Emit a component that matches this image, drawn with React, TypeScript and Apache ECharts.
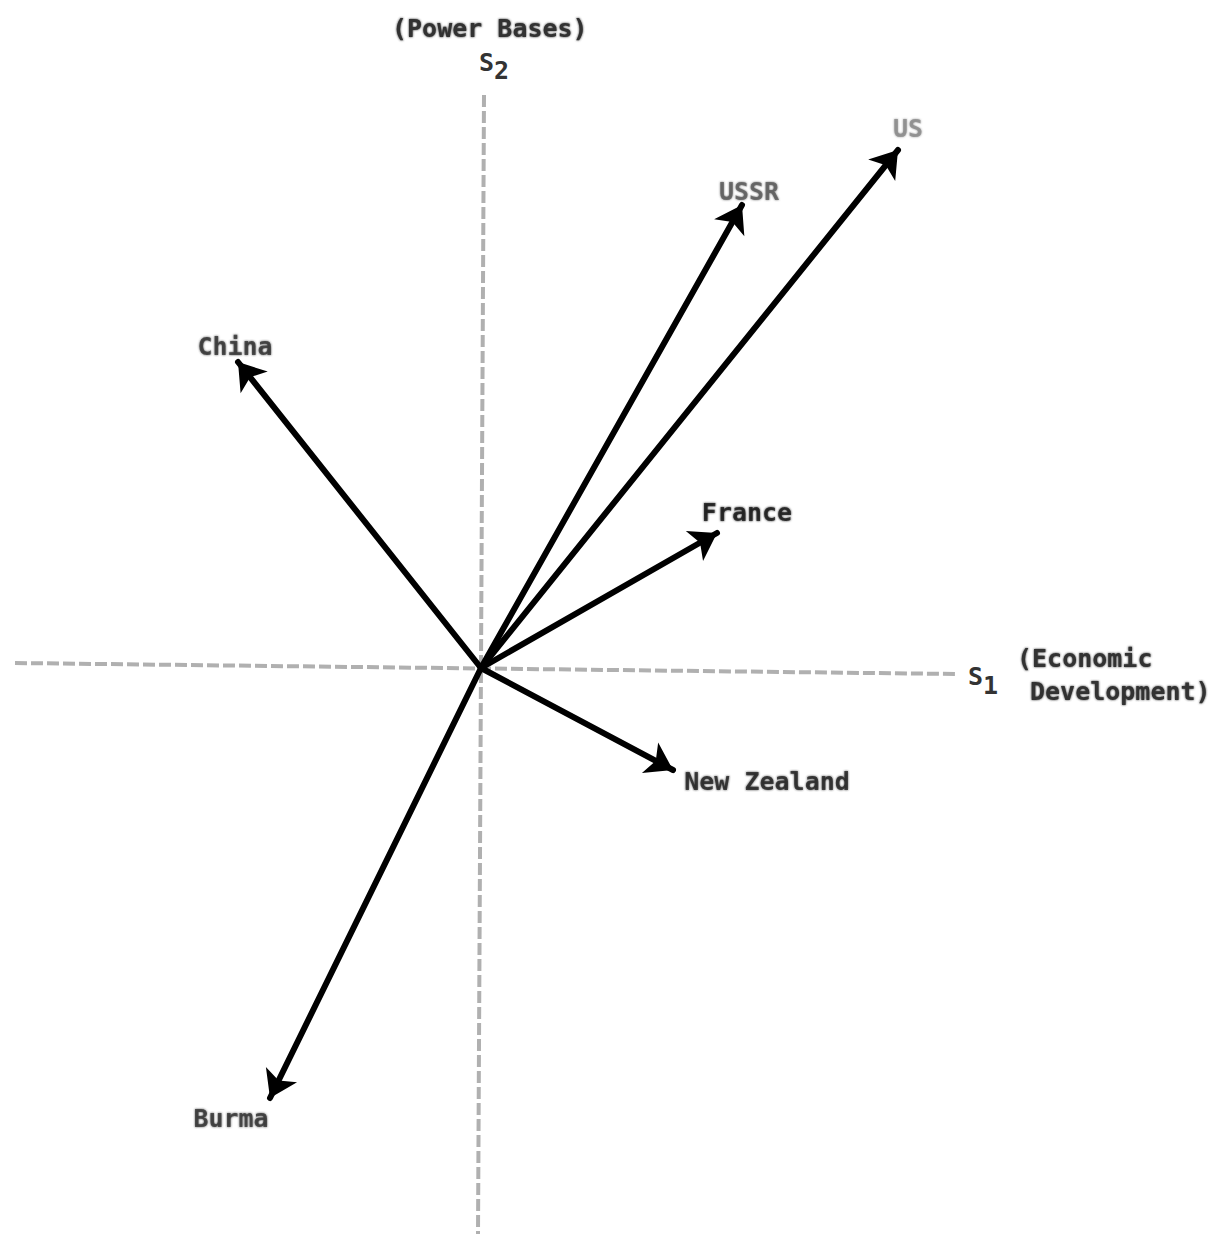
import React, { useEffect, useRef } from "react";
import * as echarts from "echarts";

// Country vectors (S1 = Economic Development, S2 = Power Bases)
const countries = ["US", "USSR", "China", "France", "New Zealand", "Burma"];
const s1Values = [4.17, 2.61, -2.43, 2.36, 1.92, -2.11];
const s2Values = [5.18, 4.63, 3.06, 1.35, -1.02, -4.3];

// Axis extents (dashed reference axes)
const s1AxisFrom = [-4.66, 0.05];
const s1AxisTo = [4.74, -0.06];
const s2AxisFrom = [0.03, 5.73];
const s2AxisTo = [-0.03, -5.66];

const labelOffsets: Record<string, number[]> = {
  US: [10, -22],
  USSR: [7, -14],
  China: [-3, -16],
  France: [30, -21],
  "New Zealand": [94, 11],
  Burma: [-39, 20],
};
const labelColors: Record<string, string> = {
  US: "#8a8a8a",
  USSR: "#5a5a5a",
  China: "#333",
  France: "#151515",
  "New Zealand": "#222",
  Burma: "#333",
};

const FONT = "'DejaVu Sans Mono', monospace";

export default function App() {
  const ref = useRef<HTMLDivElement>(null);
  useEffect(() => {
    const chart = echarts.init(ref.current!, null, { renderer: "svg" });
    const vectors = countries.map((c, i) => ({
      name: c,
      coords: [
        [0, 0],
        [s1Values[i], s2Values[i]],
      ],
    }));
    const tips = countries.map((c, i) => ({
      name: c,
      value: [s1Values[i], s2Values[i]],
      label: {
        offset: labelOffsets[c],
        color: labelColors[c],
        textShadowColor: labelColors[c],
        textShadowBlur: 2,
      },
    }));
    chart.setOption({
      animation: false,
      backgroundColor: "#fff",
      grid: { left: 0, right: 0, top: 0, bottom: 0 },
      xAxis: {
        type: "value",
        min: -4.81,
        max: 7.4,
        show: false,
      },
      yAxis: {
        type: "value",
        min: -5.66,
        max: 6.68,
        show: false,
      },
      series: [
        {
          type: "lines",
          coordinateSystem: "cartesian2d",
          silent: true,
          symbol: ["none", "none"],
          lineStyle: { color: "#b0b0b0", width: 4, type: [12, 4], opacity: 1 },
          data: [
            { coords: [s1AxisFrom, s1AxisTo] },
            { coords: [s2AxisFrom, s2AxisTo] },
          ],
          z: 1,
        },
        {
          type: "lines",
          coordinateSystem: "cartesian2d",
          silent: true,
          symbol: ["none", "arrow"],
          symbolSize: [20, 26],
          lineStyle: { color: "#000", width: 6, opacity: 1, cap: "round" },
          itemStyle: { color: "#000" },
          data: vectors,
          z: 3,
        },
        {
          type: "scatter",
          symbolSize: 0,
          silent: true,
          data: tips,
          label: {
            show: true,
            position: "inside",
            formatter: "{b}",
            fontFamily: FONT,
            fontWeight: "bold",
            fontSize: 25,
          },
          z: 4,
        },
      ],
      graphic: [
        {
          type: "text",
          left: 392,
          top: 16,
          style: {
            text: "(Power Bases)",
            font: `bold 25px ${FONT}`,
            fill: "#333",
            textShadowColor: "#333",
            textShadowBlur: 2,
          },
        },
        {
          type: "text",
          left: 479,
          top: 50,
          style: {
            text: "S{sub|2}",
            font: `bold 25px ${FONT}`,
            fill: "#333",
            rich: { sub: { fontSize: 25, fontWeight: "bold", fontFamily: FONT, padding: [16, 0, 0, 0] } },
          },
        },
        {
          type: "text",
          left: 968,
          top: 664,
          style: {
            text: "S{sub|1}",
            font: `bold 25px ${FONT}`,
            fill: "#333",
            rich: { sub: { fontSize: 25, fontWeight: "bold", fontFamily: FONT, padding: [18, 0, 0, 0] } },
          },
        },
        {
          type: "text",
          left: 1017,
          top: 646,
          style: {
            text: "(Economic",
            font: `bold 25px ${FONT}`,
            fill: "#333",
            textShadowColor: "#333",
            textShadowBlur: 2,
          },
        },
        {
          type: "text",
          left: 1030,
          top: 679,
          style: {
            text: "Development)",
            font: `bold 25px ${FONT}`,
            fill: "#333",
            textShadowColor: "#333",
            textShadowBlur: 2,
          },
        },
      ],
    });
    return () => chart.dispose();
  }, []);
  return (
    <div
      ref={ref}
      style={{ position: "absolute", left: 0, top: 0, width: 1221, height: 1234 }}
    />
  );
}
